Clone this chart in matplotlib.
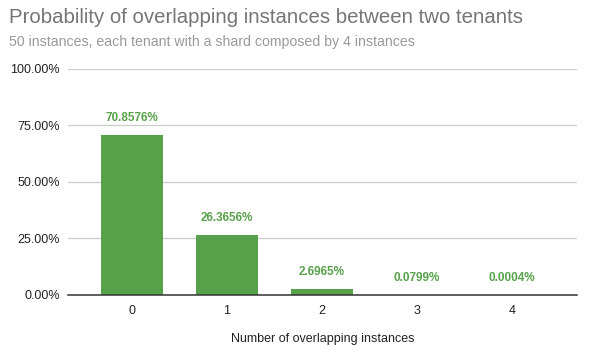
import matplotlib
matplotlib.use('Agg')
from matplotlib import pyplot as plt
from matplotlib.ticker import FuncFormatter

plt.rcParams['font.family'] = ['Liberation Sans', 'DejaVu Sans']

overlaps = ['0', '1', '2', '3', '4']
probs    = [70.8576, 26.3656, 2.6965, 0.0799, 0.0004]
labels   = ['70.8576%', '26.3656%', '2.6965%', '0.0799%', '0.0004%']

green = '#58a14b'

fig = plt.figure(figsize=(5.91, 3.57), dpi=100)
ax  = fig.add_axes([0.115, 0.174, 0.861, 0.633])

x = range(len(overlaps))
ax.bar(x, probs, width=0.65, color=green, zorder=3)
for xi, p, lab in zip(x, probs, labels):
    ax.annotate(lab, (xi, p), xytext=(0, 8), textcoords='offset points',
                ha='center', va='bottom', color=green, fontsize=8.5, fontweight='bold')

ax.set_xlim(-0.67, 4.68)
ax.set_ylim(0, 100)
ax.set_yticks([0, 25, 50, 75, 100])
ax.yaxis.set_major_formatter(FuncFormatter(lambda v, _: f'{v:.2f}%'))
ax.set_xticks(list(x))
ax.set_xticklabels(overlaps)
ax.grid(axis='y', color='#cccccc', linewidth=0.9, zorder=0)
for s in ['top', 'right', 'left']:
    ax.spines[s].set_visible(False)
ax.spines['bottom'].set_color('#333333')
ax.spines['bottom'].set_linewidth(1.1)
ax.spines['bottom'].set_zorder(4)
ax.tick_params(axis='both', length=0, labelsize=9, colors='#222222')
ax.tick_params(axis='x', pad=7)
ax.tick_params(axis='y', pad=6)
ax.set_xlabel('Number of overlapping instances', fontsize=9, color='#222222', labelpad=12)

fig.text(0.015, 0.952, 'Probability of overlapping instances between two tenants',
         fontsize=14.7, color='#757575', va='center')
fig.text(0.015, 0.883, '50 instances, each tenant with a shard composed by 4 instances',
         fontsize=10.2, color='#999999', va='center')

fig.savefig('out.png', dpi=100)
